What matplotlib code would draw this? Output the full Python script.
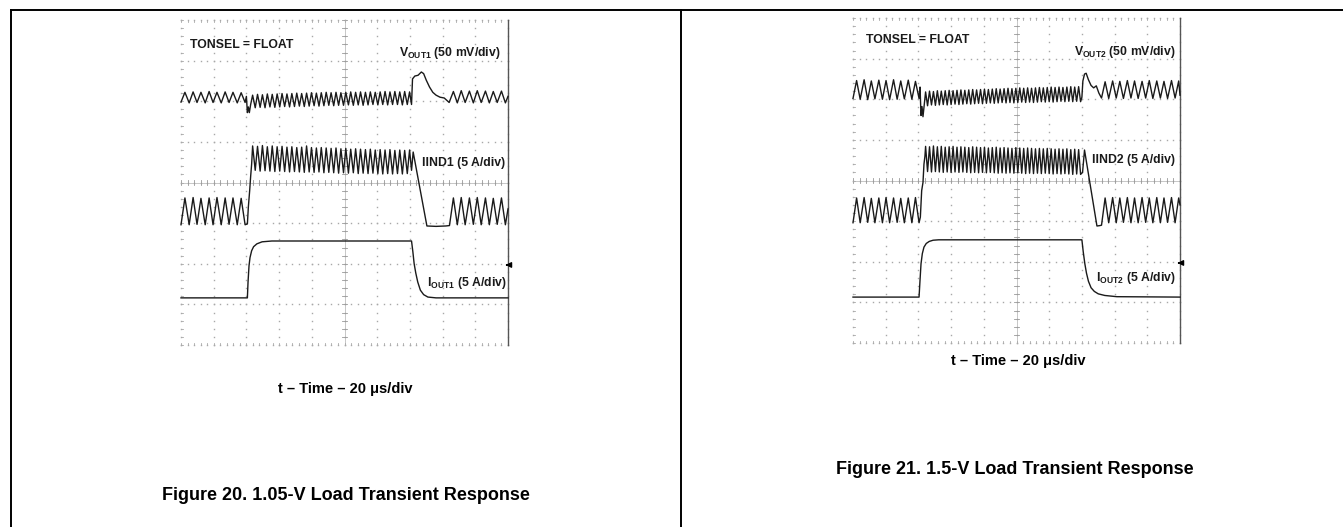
import numpy as np
import matplotlib
matplotlib.use("Agg")
import matplotlib.pyplot as plt
from matplotlib.lines import Line2D

plt.rcParams['font.family'] = ['Liberation Sans', 'DejaVu Sans']
plt.rcParams['mathtext.fontset'] = 'custom'
plt.rcParams['mathtext.rm'] = 'Liberation Sans:bold'
plt.rcParams['mathtext.it'] = 'Liberation Sans:bold'
plt.rcParams['mathtext.bf'] = 'Liberation Sans:bold'

# ---------------- data (scope divisions: x 0..10, y 0..8) ----------------
# Figure 20 (left)
l_lo1_t = [0.00, 0.12, 0.25, 0.37, 0.49, 0.61, 0.74, 0.86, 0.98, 1.10, 1.23, 1.35, 1.47, 1.59, 1.72, 1.84, 1.96]
vout1_lo1 = [5.98, 6.22, 5.96, 6.23, 5.97, 6.22, 5.96, 6.24, 5.97, 6.22, 5.96, 6.23, 5.97, 6.22, 5.96, 6.21, 5.97]
iind1_lo1 = [2.96, 3.62, 2.96, 3.63, 2.97, 3.61, 2.96, 3.62, 2.96, 3.63, 2.96, 3.62, 2.97, 3.62, 2.96, 3.61, 2.96]

vout1_step_t = [2.00, 2.03, 2.06, 2.09, 2.13]
vout1_step_v = [6.12, 5.72, 5.86, 5.72, 5.92]
iind1_step_t = [2.03, 2.06, 2.10, 2.13, 2.16]
iind1_step_v = [2.98, 3.40, 3.80, 4.15, 4.45]

l_hi_t = [2.19, 2.27, 2.34, 2.42, 2.49, 2.57, 2.64, 2.72, 2.79, 2.87,
          2.94, 3.02, 3.09, 3.17, 3.24, 3.32, 3.39, 3.47, 3.54, 3.62,
          3.69, 3.77, 3.84, 3.92, 3.99, 4.07, 4.14, 4.22, 4.29, 4.37,
          4.44, 4.52, 4.59, 4.67, 4.74, 4.82, 4.89, 4.97, 5.04, 5.12,
          5.19, 5.27, 5.34, 5.42, 5.49, 5.57, 5.64, 5.72, 5.79, 5.87,
          5.94, 6.02, 6.09, 6.17, 6.24, 6.32, 6.39, 6.47, 6.54, 6.62,
          6.69, 6.77, 6.84, 6.92, 6.99]
vout1_hi = [6.15, 5.84, 6.17, 5.85, 6.16, 5.84, 6.18, 5.86, 6.17, 5.85,
            6.18, 5.86, 6.19, 5.87, 6.18, 5.86, 6.19, 5.87, 6.20, 5.88,
            6.19, 5.87, 6.20, 5.88, 6.21, 5.89, 6.20, 5.88, 6.21, 5.89,
            6.22, 5.90, 6.21, 5.89, 6.22, 5.90, 6.21, 5.90, 6.22, 5.91,
            6.23, 5.90, 6.22, 5.91, 6.23, 5.90, 6.22, 5.91, 6.23, 5.92,
            6.22, 5.91, 6.23, 5.92, 6.24, 5.91, 6.23, 5.92, 6.24, 5.92,
            6.23, 5.91, 6.24, 5.92, 6.23]
iind1_hi = [4.90, 4.30, 4.89, 4.28, 4.91, 4.29, 4.88, 4.28, 4.90, 4.27,
            4.88, 4.28, 4.89, 4.27, 4.87, 4.26, 4.88, 4.27, 4.86, 4.26,
            4.87, 4.25, 4.90, 4.26, 4.86, 4.25, 4.85, 4.26, 4.86, 4.24,
            4.85, 4.25, 4.84, 4.24, 4.85, 4.23, 4.83, 4.24, 4.84, 4.23,
            4.82, 4.24, 4.83, 4.22, 4.82, 4.23, 4.81, 4.22, 4.82, 4.23,
            4.80, 4.22, 4.81, 4.21, 4.80, 4.22, 4.81, 4.21, 4.79, 4.22,
            4.80, 4.21, 4.79, 4.22, 4.80]

vout1_rel_t = [7.05, 7.08, 7.15, 7.25, 7.35, 7.42, 7.50, 7.60, 7.70, 7.80, 7.92, 8.05, 8.20]
vout1_rel_v = [5.92, 6.55, 6.62, 6.64, 6.72, 6.68, 6.52, 6.35, 6.22, 6.15, 6.10, 6.08, 5.97]
iind1_rel_t = [7.05, 7.10, 7.52, 7.80, 8.10, 8.21]
iind1_rel_v = [4.30, 4.75, 2.93, 2.92, 2.93, 2.94]

l_lo2_t = [8.33, 8.45, 8.57, 8.69, 8.82, 8.94, 9.06, 9.18, 9.31, 9.43, 9.55, 9.67, 9.80, 9.92, 10.00]
vout1_lo2 = [6.24, 5.96, 6.26, 5.97, 6.25, 5.96, 6.26, 5.97, 6.25, 5.96, 6.24, 5.97, 6.25, 5.96, 6.12]
iind1_lo2 = [3.62, 2.96, 3.63, 2.96, 3.62, 2.97, 3.63, 2.96, 3.62, 2.96, 3.61, 2.97, 3.62, 2.96, 3.35]

iout1_t = [0.00, 2.03, 2.05, 2.08, 2.11, 2.16, 2.22, 2.32, 2.48, 2.78, 7.05, 7.09, 7.13, 7.18, 7.24, 7.32, 7.42, 7.55, 7.80, 10.00]
iout1_v = [1.16, 1.16, 1.55, 1.95, 2.15, 2.32, 2.42, 2.49, 2.54, 2.56, 2.56, 2.30, 2.00, 1.77, 1.55, 1.35, 1.24, 1.18, 1.16, 1.16]

# Figure 21 (right)
r_lo1_t = [0.00, 0.11, 0.22, 0.34, 0.45, 0.56, 0.67, 0.79, 0.90, 1.01, 1.12, 1.24, 1.35, 1.46, 1.57, 1.69, 1.80, 1.91, 2.02]
vout2_lo1 = [6.02, 6.46, 6.00, 6.48, 5.99, 6.45, 6.01, 6.47, 6.00, 6.46, 5.99, 6.48, 6.00, 6.45, 6.01, 6.47, 6.00, 6.44, 6.02]
iind2_lo1 = [2.96, 3.57, 2.96, 3.58, 2.97, 3.56, 2.96, 3.57, 2.96, 3.58, 2.96, 3.57, 2.97, 3.56, 2.96, 3.57, 2.96, 3.58, 2.96]

vout2_step_t = [2.05, 2.08, 2.11, 2.14, 2.18]
vout2_step_v = [6.30, 5.60, 5.82, 5.57, 5.88]
iind2_step_t = [2.06, 2.10, 2.14, 2.17, 2.20]
iind2_step_v = [3.10, 3.75, 3.95, 4.40, 4.60]

r_hi_t = [2.22, 2.28, 2.34, 2.40, 2.46, 2.52, 2.58, 2.64, 2.70, 2.76,
          2.82, 2.88, 2.94, 3.00, 3.06, 3.12, 3.18, 3.24, 3.30, 3.36,
          3.42, 3.48, 3.54, 3.60, 3.66, 3.72, 3.78, 3.84, 3.90, 3.96,
          4.02, 4.08, 4.14, 4.20, 4.26, 4.32, 4.38, 4.44, 4.50, 4.56,
          4.62, 4.68, 4.74, 4.80, 4.86, 4.92, 4.98, 5.04, 5.10, 5.16,
          5.22, 5.28, 5.34, 5.40, 5.46, 5.52, 5.58, 5.64, 5.70, 5.76,
          5.82, 5.88, 5.94, 6.00, 6.06, 6.12, 6.18, 6.24, 6.30, 6.36,
          6.42, 6.48, 6.54, 6.60, 6.66, 6.72, 6.78, 6.84, 6.90, 6.96]
vout2_hi = [6.18, 5.84, 6.20, 5.86, 6.19, 5.85, 6.21, 5.86, 6.20, 5.87,
            6.21, 5.86, 6.22, 5.87, 6.21, 5.88, 6.22, 5.87, 6.23, 5.88,
            6.22, 5.89, 6.23, 5.88, 6.24, 5.89, 6.23, 5.90, 6.24, 5.89,
            6.25, 5.90, 6.24, 5.91, 6.25, 5.90, 6.26, 5.91, 6.25, 5.92,
            6.26, 5.91, 6.27, 5.92, 6.26, 5.91, 6.27, 5.92, 6.28, 5.93,
            6.27, 5.92, 6.28, 5.93, 6.27, 5.92, 6.28, 5.93, 6.29, 5.94,
            6.28, 5.93, 6.29, 5.94, 6.30, 5.93, 6.29, 5.94, 6.30, 5.95,
            6.29, 5.94, 6.30, 5.95, 6.31, 5.94, 6.30, 5.95, 6.31, 5.94]
iind2_hi = [4.84, 4.22, 4.83, 4.21, 4.85, 4.22, 4.83, 4.21, 4.84, 4.20,
            4.82, 4.21, 4.83, 4.20, 4.84, 4.21, 4.82, 4.20, 4.83, 4.21,
            4.82, 4.20, 4.81, 4.19, 4.83, 4.20, 4.82, 4.19, 4.81, 4.20,
            4.82, 4.19, 4.80, 4.20, 4.81, 4.19, 4.82, 4.18, 4.80, 4.19,
            4.81, 4.18, 4.80, 4.19, 4.79, 4.18, 4.81, 4.19, 4.80, 4.18,
            4.79, 4.17, 4.80, 4.18, 4.79, 4.17, 4.78, 4.18, 4.79, 4.17,
            4.78, 4.18, 4.79, 4.17, 4.78, 4.16, 4.77, 4.17, 4.78, 4.16,
            4.77, 4.17, 4.78, 4.16, 4.76, 4.15, 4.77, 4.16, 4.76, 4.15]

vout2_rel_t = [7.00, 7.03, 7.08, 7.13, 7.20, 7.28, 7.36, 7.44, 7.52]
vout2_rel_v = [6.05, 6.45, 6.62, 6.64, 6.48, 6.34, 6.28, 6.33, 6.15]
iind2_rel_t = [7.02, 7.08, 7.46, 7.55]
iind2_rel_v = [4.20, 4.75, 2.88, 2.89]

r_lo2_t = [7.60, 7.71, 7.82, 7.94, 8.05, 8.16, 8.27, 8.39, 8.50, 8.61, 8.72, 8.84,
           8.95, 9.06, 9.17, 9.29, 9.40, 9.51, 9.62, 9.74, 9.85, 9.96, 10.00]
vout2_lo2 = [6.03, 6.43, 6.02, 6.45, 6.03, 6.44, 6.02, 6.46, 6.03, 6.45, 6.02, 6.44,
             6.03, 6.46, 6.02, 6.45, 6.03, 6.44, 6.02, 6.46, 6.03, 6.45, 6.10]
iind2_lo2 = [2.90, 3.57, 2.96, 3.58, 2.96, 3.57, 2.97, 3.58, 2.96, 3.57, 2.96, 3.58,
             2.97, 3.57, 2.96, 3.58, 2.96, 3.57, 2.97, 3.58, 2.96, 3.57, 3.40]

iout2_t = [0.00, 2.02, 2.05, 2.08, 2.12, 2.17, 2.24, 2.33, 2.45, 2.62, 7.00, 7.04, 7.09, 7.14, 7.20, 7.28, 7.38, 7.50, 7.70, 8.07, 10.00]
iout2_v = [1.13, 1.13, 1.55, 1.95, 2.20, 2.36, 2.45, 2.50, 2.53, 2.54, 2.54, 2.25, 1.95, 1.72, 1.52, 1.36, 1.27, 1.21, 1.17, 1.14, 1.13]

ground_level = 1.97


def join(*pairs):
    ts, vs = [], []
    for t, v in pairs:
        n = min(len(t), len(v))
        ts += list(t[:n]); vs += list(v[:n])
    return ts, vs


W, H = 1343, 527
fig = plt.figure(figsize=(W / 100, H / 100), dpi=100)


def px_axes(x0, y0, x1, y1):
    return fig.add_axes([x0 / W, 1 - y1 / H, (x1 - x0) / W, (y1 - y0) / H])


def scope(ax, traces, labels):
    ax.set_xlim(0, 10)
    ax.set_ylim(0, 8)
    for s in ax.spines.values():
        s.set_visible(False)
    ax.set_xticks([]); ax.set_yticks([])
    gc = '#a8a8a8'
    ys = np.arange(0, 8.001, 0.2)
    xs = np.arange(0, 10.001, 0.2)
    for k in range(0, 11):
        ax.plot([k] * len(ys), ys, ls='none', marker='s', ms=1.0, mew=0, color=gc, clip_on=False)
    for j in range(0, 9):
        ax.plot(xs, [j] * len(xs), ls='none', marker='s', ms=1.0, mew=0, color=gc, clip_on=False)
    # centre crosshair with ticks
    ax.plot([5, 5], [0, 8], color='#b0b0b0', lw=0.5)
    ax.plot([0, 10], [4, 4], color='#b0b0b0', lw=0.5)
    for y in ys:
        ax.plot([4.93, 5.07], [y, y], color='#999999', lw=0.6)
    for x in xs:
        ax.plot([x, x], [3.93, 4.07], color='#999999', lw=0.6)
        ax.plot([x, x], [7.94, 8.0], color='#aaaaaa', lw=0.6, clip_on=False)
        ax.plot([x, x], [0.0, 0.06], color='#aaaaaa', lw=0.6, clip_on=False)
    for y in ys:
        ax.plot([0, 0.05], [y, y], color='#aaaaaa', lw=0.6, clip_on=False)
    ax.plot([10, 10], [0, 8], color='#555555', lw=1.0, clip_on=False)
    for t, v in traces:
        ax.plot(t, v, color='#1a1a1a', lw=1.0, clip_on=False)
    ax.annotate('', xy=(9.84, ground_level), xytext=(10.05, ground_level),
                arrowprops=dict(arrowstyle='-|>', color='black', lw=1.0, mutation_scale=8),
                annotation_clip=False)
    for (x, y, s, ha) in labels:
        ax.text(x, y, s, ha=ha, va='center', fontsize=8.8, fontweight='bold', color='#1a1a1a')


axL = px_axes(181, 20, 508, 345)
tracesL = [
    join((l_lo1_t, vout1_lo1), (vout1_step_t, vout1_step_v), (l_hi_t, vout1_hi),
         (vout1_rel_t, vout1_rel_v), (l_lo2_t, vout1_lo2)),
    join((l_lo1_t, iind1_lo1), (iind1_step_t, iind1_step_v), (l_hi_t, iind1_hi),
         (iind1_rel_t, iind1_rel_v), (l_lo2_t, iind1_lo2)),
    (iout1_t, iout1_v),
]
scope(axL, tracesL, [
    (0.28, 7.39, 'TONSEL = FLOAT', 'left'),
    (9.78, 7.19, r'V$_{\mathrm{OUT1}}$ (50 mV/div)', 'right'),
    (9.92, 4.48, 'IIND1 (5 A/div)', 'right'),
    (9.95, 1.53, r'I$_{\mathrm{OUT1}}$ (5 A/div)', 'right'),
])

axR = px_axes(853, 18, 1180, 343)
tracesR = [
    join((r_lo1_t, vout2_lo1), (vout2_step_t, vout2_step_v), (r_hi_t, vout2_hi),
         (vout2_rel_t, vout2_rel_v), (r_lo2_t, vout2_lo2)),
    join((r_lo1_t, iind2_lo1), (iind2_step_t, iind2_step_v), (r_hi_t, iind2_hi),
         (iind2_rel_t, iind2_rel_v), (r_lo2_t, iind2_lo2)),
    (iout2_t, iout2_v),
]
scope(axR, tracesR, [
    (0.40, 7.46, 'TONSEL = FLOAT', 'left'),
    (9.86, 7.17, r'V$_{\mathrm{OUT2}}$ (50 mV/div)', 'right'),
    (9.86, 4.50, 'IIND2 (5 A/div)', 'right'),
    (9.86, 1.60, r'I$_{\mathrm{OUT2}}$ (5 A/div)', 'right'),
])

# axis titles and captions
fig.text(345 / W, 1 - 389 / H, 't – Time – 20 μs/div', ha='center', va='center',
         fontsize=10.5, fontweight='bold')
fig.text(1018 / W, 1 - 361 / H, 't – Time – 20 μs/div', ha='center', va='center',
         fontsize=10.5, fontweight='bold')
fig.text(346 / W, 1 - 496 / H, 'Figure 20. 1.05-V Load Transient Response', ha='center',
         va='center', fontsize=13, fontweight='bold')
fig.text(1015 / W, 1 - 470 / H, 'Figure 21. 1.5-V Load Transient Response', ha='center',
         va='center', fontsize=13, fontweight='bold')

# page frame
fig.add_artist(Line2D([11 / W, 1.0], [1 - 10 / H, 1 - 10 / H], transform=fig.transFigure,
                      color='black', lw=1.4))
fig.add_artist(Line2D([11 / W, 11 / W], [0, 1 - 10 / H], transform=fig.transFigure,
                      color='black', lw=1.4))
fig.add_artist(Line2D([681 / W, 681 / W], [0, 1 - 10 / H], transform=fig.transFigure,
                      color='black', lw=1.4))

fig.savefig('out.png', dpi=100, facecolor='white')
